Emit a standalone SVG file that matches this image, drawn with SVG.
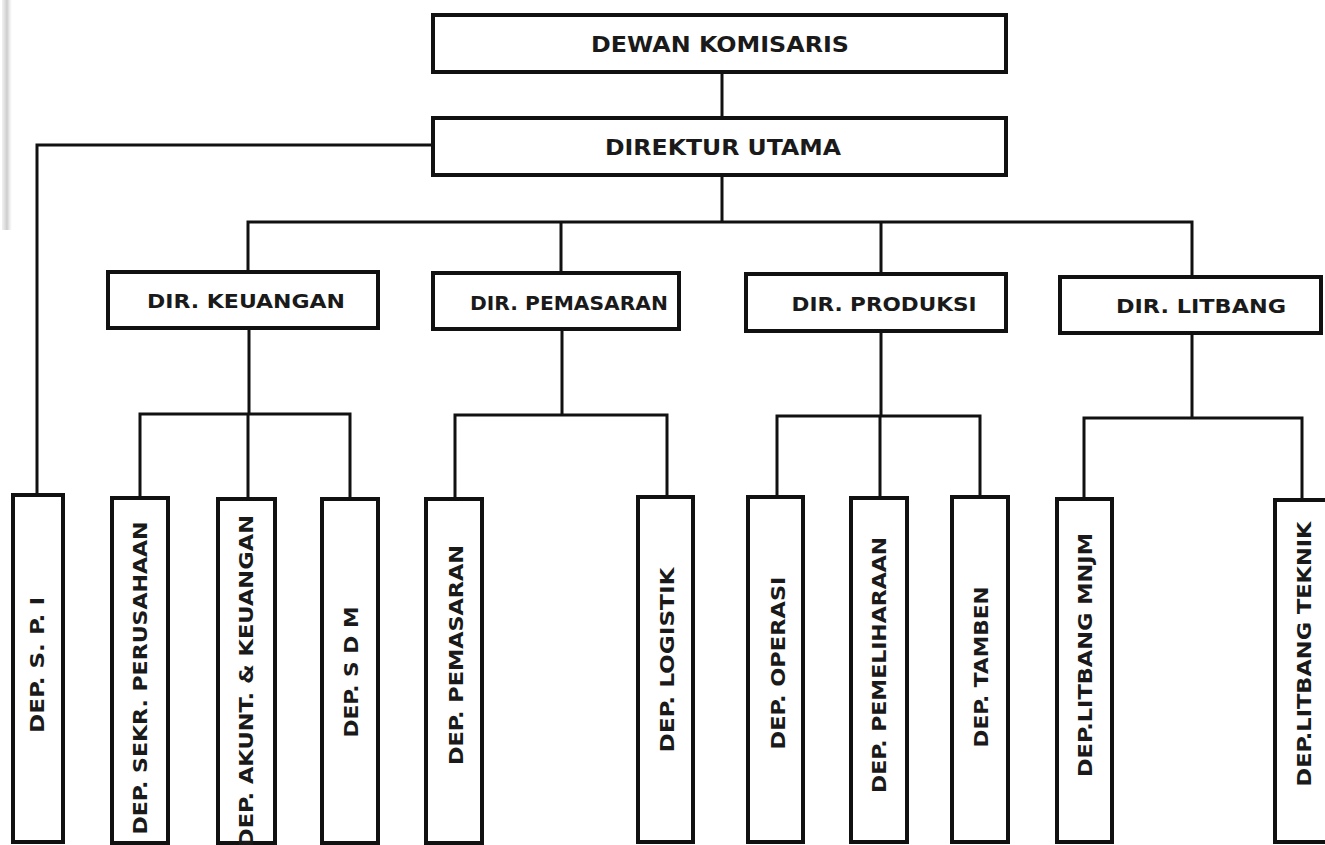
<svg xmlns="http://www.w3.org/2000/svg" width="1325" height="845" viewBox="0 0 1325 845">
<defs>
<style>
.box{fill:#fff;stroke:#111;stroke-width:4}
.ln{fill:none;stroke:#111;stroke-width:3;stroke-linejoin:miter;stroke-linecap:square}
.t{font-family:"DejaVu Sans","Verdana",sans-serif;font-weight:bold;fill:#1a1a1a;text-anchor:middle}
.h{font-size:22px}
.d{font-size:19px}
.v{font-size:19px;dominant-baseline:central}
</style>
<linearGradient id="scan" x1="0" x2="1" y1="0" y2="0">
<stop offset="0" stop-color="#bbb" stop-opacity="0.2"/>
<stop offset="0.5" stop-color="#aaa" stop-opacity="0.6"/>
<stop offset="1" stop-color="#ccc" stop-opacity="0"/>
</linearGradient>
</defs>
<rect width="1325" height="845" fill="#fff"/>
<rect x="2" y="0" width="10" height="230" fill="url(#scan)"/>

<g id="connectors">
<path class="ln" d="M722 72V118"/>
<path class="ln" d="M433 145H37V495"/>
<path class="ln" d="M722 176V222M248 222H1192M248 222V272M561 222V273M881 222V274M1192 222V277"/>
<path class="ln" d="M249 328V414M140 414H350M140 414V498M248 414V499M350 414V499"/>
<path class="ln" d="M562 329V415M455 415H667M455 415V499M667 415V497"/>
<path class="ln" d="M881 331V416M777 416H980M777 416V497M880 416V498M980 416V497"/>
<path class="ln" d="M1192 333V418M1084 418H1302M1084 418V499M1302 418V500"/>
</g>

<g id="dewan-komisaris">
<rect class="box" x="433" y="15" width="573" height="57"/>
<text class="t h" x="720" y="52" textLength="258" lengthAdjust="spacingAndGlyphs">DEWAN KOMISARIS</text>
</g>
<g id="direktur-utama">
<rect class="box" x="433" y="118" width="573" height="57"/>
<text class="t h" x="723" y="155" textLength="236" lengthAdjust="spacingAndGlyphs">DIREKTUR UTAMA</text>
</g>

<g id="dir-keuangan">
<rect class="box" x="108" y="272" width="270" height="56"/>
<text class="t d" x="246" y="308" textLength="198" lengthAdjust="spacingAndGlyphs">DIR. KEUANGAN</text>
</g>
<g id="dir-pemasaran">
<rect class="box" x="433" y="273" width="246" height="56"/>
<text class="t d" x="569" y="310" textLength="198" lengthAdjust="spacingAndGlyphs">DIR. PEMASARAN</text>
</g>
<g id="dir-produksi">
<rect class="box" x="746" y="274" width="260" height="57"/>
<text class="t d" x="884" y="311" textLength="185" lengthAdjust="spacingAndGlyphs">DIR. PRODUKSI</text>
</g>
<g id="dir-litbang">
<rect class="box" x="1060" y="277" width="261" height="56"/>
<text class="t d" x="1201" y="313" textLength="170" lengthAdjust="spacingAndGlyphs">DIR. LITBANG</text>
</g>

<g id="dep-spi">
<rect class="box" x="13" y="495" width="50" height="347"/>
<text class="t v" transform="translate(37 665) rotate(-90)" textLength="136" lengthAdjust="spacingAndGlyphs">DEP. S. P. I</text>
</g>
<g id="dep-sekr-perusahaan">
<rect class="box" x="112" y="498" width="56" height="345"/>
<text class="t v" transform="translate(140 678) rotate(-90)" textLength="313" lengthAdjust="spacingAndGlyphs">DEP. SEKR. PERUSAHAAN</text>
</g>
<g id="dep-akunt-keuangan">
<rect class="box" x="218" y="499" width="57" height="344"/>
<text class="t v" transform="translate(246 681) rotate(-90)" textLength="332" lengthAdjust="spacingAndGlyphs">DEP. AKUNT. &amp; KEUANGAN</text>
</g>
<g id="dep-sdm">
<rect class="box" x="322" y="499" width="56" height="344"/>
<text class="t v" transform="translate(351 672) rotate(-90)" textLength="131" lengthAdjust="spacingAndGlyphs">DEP. S D M</text>
</g>
<g id="dep-pemasaran">
<rect class="box" x="426" y="499" width="56" height="344"/>
<text class="t v" transform="translate(456 655) rotate(-90)" textLength="220" lengthAdjust="spacingAndGlyphs">DEP. PEMASARAN</text>
</g>
<g id="dep-logistik">
<rect class="box" x="638" y="497" width="55" height="345"/>
<text class="t v" transform="translate(667 660) rotate(-90)" textLength="185" lengthAdjust="spacingAndGlyphs">DEP. LOGISTIK</text>
</g>
<g id="dep-operasi">
<rect class="box" x="748" y="497" width="55" height="345"/>
<text class="t v" transform="translate(778 663) rotate(-90)" textLength="173" lengthAdjust="spacingAndGlyphs">DEP. OPERASI</text>
</g>
<g id="dep-pemeliharaan">
<rect class="box" x="851" y="498" width="56" height="344"/>
<text class="t v" transform="translate(879 665) rotate(-90)" textLength="256" lengthAdjust="spacingAndGlyphs">DEP. PEMELIHARAAN</text>
</g>
<g id="dep-tamben">
<rect class="box" x="952" y="497" width="56" height="345"/>
<text class="t v" transform="translate(981 667) rotate(-90)" textLength="161" lengthAdjust="spacingAndGlyphs">DEP. TAMBEN</text>
</g>
<g id="dep-litbang-mnjm">
<rect class="box" x="1057" y="499" width="55" height="343"/>
<text class="t v" transform="translate(1085 655) rotate(-90)" textLength="244" lengthAdjust="spacingAndGlyphs">DEP.LITBANG MNJM</text>
</g>
<g id="dep-litbang-teknik">
<rect class="box" x="1275" y="500" width="60" height="342"/>
<text class="t v" transform="translate(1304 654) rotate(-90)" textLength="265" lengthAdjust="spacingAndGlyphs">DEP.LITBANG TEKNIK</text>
</g>
</svg>
